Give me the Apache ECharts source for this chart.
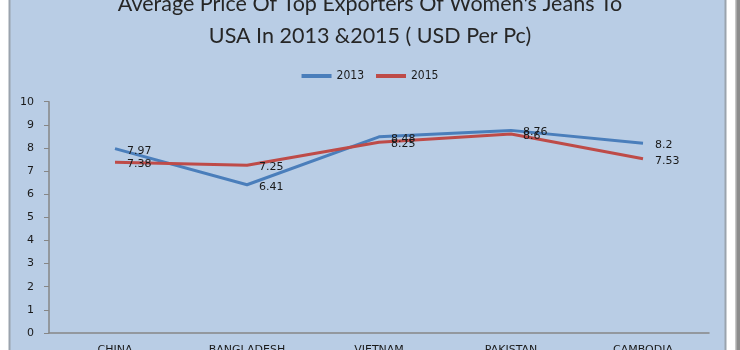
<!DOCTYPE html>
<html><head><meta charset="utf-8">
<script src="https://cdn.jsdelivr.net/npm/echarts@6/dist/echarts.min.js"></script>
<style>html,body{margin:0;padding:0;background:#fff}#c{width:740px;height:350px}</style>
</head><body><div id="c"></div>
<script>
var categories = ['CHINA', 'BANGLADESH', 'VIETNAM', 'PAKISTAN', 'CAMBODIA'];
var values2013 = [7.97, 6.41, 8.48, 8.76, 8.2];
var values2015 = [7.38, 7.25, 8.25, 8.6, 7.53];
var seriesNames = ['2013', '2015'];
var titleText = "Average Price Of Top Exporters Of Women's Jeans To\nUSA In 2013 &2015 ( USD Per Pc)";

var chart = echarts.init(document.getElementById('c'), null, {renderer: 'canvas'});
function mkSeries(name, data, color) {
  return {
    name: name, type: 'line', data: data,
    symbol: 'circle', symbolSize: 0.1, showSymbol: true,
    lineStyle: {color: color, width: 3},
    itemStyle: {color: color},
    label: {show: true, position: 'right', distance: 12, offset: [0, 2],
      color: '#1a1a1a', fontFamily: 'DejaVu Sans', fontSize: 11},
    emphasis: {disabled: true},
    z: 3
  };
}
chart.setOption({
  animation: false,
  backgroundColor: '#ffffff',
  graphic: [
    {type: 'rect', shape: {x: 9.5, y: -5, width: 716, height: 400}, style: {fill: '#B9CDE5', stroke: '#9aa3ad', lineWidth: 2}, z: -10, silent: true},
    {type: 'rect', shape: {x: 735, y: 0, width: 5, height: 350}, style: {fill: '#8c8c8c'}, z: -10, silent: true},
    {type: 'rect', shape: {x: 735, y: 0, width: 1.5, height: 350}, style: {fill: '#c8c8c8'}, z: -9, silent: true}
  ],
  title: {
    text: titleText, left: 'center', top: -17,
    textStyle: {fontFamily: 'Lato', fontSize: 21.5, fontWeight: 'normal', color: '#262626', lineHeight: 32}
  },
  legend: {
    data: seriesNames, top: 65, left: 'center', icon: 'rect', itemWidth: 30, itemHeight: 4, itemGap: 12,
    textStyle: {fontFamily: 'DejaVu Sans Condensed', fontSize: 12, color: '#1a1a1a'}
  },
  grid: {left: 49, right: 31, top: 101.7, bottom: 17, containLabel: false, outerBoundsMode: 'none'},
  xAxis: {
    type: 'category', data: categories, boundaryGap: true,
    axisLine: {lineStyle: {color: '#868686', width: 1.5}},
    axisTick: {show: false},
    axisLabel: {margin: 12, fontFamily: 'DejaVu Sans', fontSize: 11, color: '#1a1a1a'}
  },
  yAxis: {
    type: 'value', min: 0, max: 10, interval: 1,
    axisLine: {show: true, lineStyle: {color: '#868686', width: 1.5}},
    axisTick: {show: true, length: 5, lineStyle: {color: '#868686'}},
    splitLine: {show: false},
    axisLabel: {margin: 15, fontFamily: 'DejaVu Sans', fontSize: 11, color: '#1a1a1a'}
  },
  series: [mkSeries(seriesNames[0], values2013, '#4A7EBB'), mkSeries(seriesNames[1], values2015, '#BE4B48')]
});
</script></body></html>
